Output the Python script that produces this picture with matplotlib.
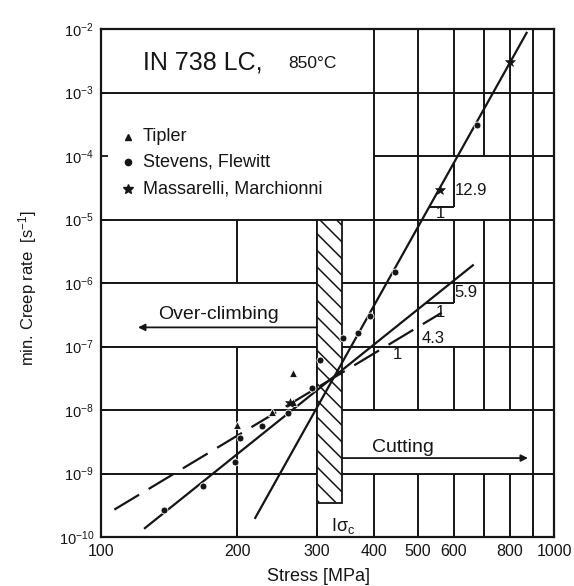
import numpy as np
import matplotlib
matplotlib.use('Agg')
import matplotlib.pyplot as plt
from matplotlib.patches import Rectangle
from matplotlib.ticker import FixedLocator, FixedFormatter, NullLocator

plt.rcParams['font.family'] = ['Liberation Sans', 'DejaVu Sans']
plt.rcParams['mathtext.fontset'] = 'custom'
plt.rcParams['mathtext.rm'] = 'Liberation Sans'
plt.rcParams['mathtext.it'] = 'Liberation Sans:italic'
plt.rcParams['mathtext.default'] = 'regular'
plt.rcParams['hatch.linewidth'] = 1.1

# ---------------- data ----------------
tipler_stress = [199.6, 238.5, 265.0, 265.4]
tipler_rate = [5.8e-9, 9.3e-9, 1.34e-8, 3.8e-8]

stevens_stress = [138, 168, 198, 203, 227, 259, 292, 305, 342, 369, 393, 446, 676]
stevens_rate = [2.66e-10, 6.4e-10, 1.5e-9, 3.6e-9, 5.6e-9, 9.0e-9, 2.2e-8, 6.2e-8,
                1.36e-7, 1.63e-7, 3.0e-7, 1.5e-6, 3.1e-4]

massarelli_stress = [261, 560, 800]
massarelli_rate = [1.29e-8, 2.9e-5, 3.0e-3]

# fitted straight lines (end points)
line_129_stress = [219, 870]
line_129_rate = [2.0e-10, 8.7e-3]
line_59_stress = [125, 662]
line_59_rate = [1.38e-10, 1.9e-6]
line_43_stress = [107, 565]
line_43_rate = [2.7e-10, 3.4e-7]

slope_labels = ['12.9', '5.9', '4.3']
series_names = ['Tipler', 'Stevens, Flewitt', 'Massarelli, Marchionni']

sigma_c_band = [300, 340]
sigma_c_band_rate = [3.4e-10, 1e-5]

x_ticks = [100, 200, 300, 400, 500, 600, 700, 800, 900, 1000]
x_tick_labels = ['100', '200', '300', '400', '500', '600', '', '800', '', '1000']
y_exponents = [-10, -9, -8, -7, -6, -5, -4, -3, -2]


def on_line(xs, ys, x=None, y=None):
    lx = np.log10(xs)
    ly = np.log10(ys)
    m = (ly[1] - ly[0]) / (lx[1] - lx[0])
    if x is not None:
        return 10 ** (ly[0] + m * (np.log10(x) - lx[0]))
    return 10 ** (lx[0] + (np.log10(y) - ly[0]) / m)


INK = '#151515'
fig = plt.figure(figsize=(5.74, 5.86), dpi=100)
ax = fig.add_axes([101 / 574, 49 / 586, 453 / 574, 508 / 586])
ax.set_xscale('log')
ax.set_yscale('log')
ax.set_xlim(100, 1000)
ax.set_ylim(1e-10, 1e-2)

# slope triangle geometry
A600 = on_line(line_129_stress, line_129_rate, x=600)
triA_y = 1.58e-5
triA_x0 = on_line(line_129_stress, line_129_rate, y=triA_y)
B600 = on_line(line_59_stress, line_59_rate, x=600)
triB_y = 4.8e-7
triB_x0 = on_line(line_59_stress, line_59_rate, y=triB_y)

# ---------------- grid with open boxes ----------------
vseg = {
    200: [(1e-10, 1e-7), (1e-6, 1e-5)],
    300: [(1e-10, 1e-5)],
    400: [(1e-10, 1e-9), (1e-8, 1e-2)],
    500: [(1e-10, 1e-9), (1e-8, 1e-2)],
    600: [(1e-10, 1e-9), (1e-8, 1e-7), (triB_y, 1e-5), (triA_y, A600), (1e-4, 1e-2)],
    700: [(1e-10, 1e-9), (1e-8, 1e-5), (1e-4, 1e-2)],
    800: [(1e-10, 1e-9), (1e-8, 1e-2)],
    900: [(1e-10, 1e-2)],
}
hseg = {
    1e-9: [(100, 1000)],
    1e-8: [(100, 1000)],
    1e-7: [(100, 1000)],
    1e-6: [(100, 1000)],
    1e-5: [(100, 1000)],
    1e-4: [(400, 1000)],
    1e-3: [(100, 1000)],
    triA_y: [(triA_x0, 600)],
    triB_y: [(triB_x0, 600)],
}
glw = 1.4
for x, segs in vseg.items():
    for y0, y1 in segs:
        ax.plot([x, x], [y0, y1], color=INK, lw=glw, zorder=1, solid_capstyle='butt')
for y, segs in hseg.items():
    for x0, x1 in segs:
        ax.plot([x0, x1], [y, y], color=INK, lw=glw, zorder=1, solid_capstyle='butt')

# sigma_c band
ax.add_patch(Rectangle((sigma_c_band[0], sigma_c_band_rate[0]),
                       sigma_c_band[1] - sigma_c_band[0],
                       sigma_c_band_rate[1] - sigma_c_band_rate[0],
                       facecolor='white', edgecolor=INK, hatch='\\\\', lw=1.3, zorder=2))

# ---------------- fitted lines ----------------
ax.plot(line_129_stress, line_129_rate, color=INK, lw=1.6, zorder=4)
ax.plot(line_59_stress, line_59_rate, color=INK, lw=1.6, zorder=4)
ax.plot(line_43_stress, line_43_rate, color=INK, lw=1.6, zorder=4, dashes=(13, 5))

# ---------------- data points ----------------
mk = dict(linestyle='none', color=INK, markeredgecolor='white', markeredgewidth=0.6, zorder=5)
ax.plot(tipler_stress, tipler_rate, marker='^', markersize=5.5, **mk)
ax.plot(stevens_stress, stevens_rate, marker='o', markersize=5, **mk)
ax.plot(massarelli_stress, massarelli_rate, marker='*', markersize=7, linestyle='none',
        color=INK, markeredgecolor=INK, markeredgewidth=0.4, zorder=5)

# ---------------- texts ----------------
ax.text(124, 3.0e-3, 'IN 738 LC,', fontsize=18, va='center', ha='left', color=INK, zorder=6)
ax.text(259, 2.9e-3, '850°C', fontsize=12.5, va='center', ha='left', color=INK, zorder=6)

leg_x_marker = 114.7
leg_x_text = 123.8
leg_y = [2.0e-4, 8.05e-5, 3.0e-5]
leg_markers = [('^', 5), ('o', 4.5), ('*', 7)]
for name, yy, (m, s) in zip(series_names, leg_y, leg_markers):
    ax.plot([leg_x_marker], [yy], marker=m, markersize=s, color=INK, linestyle='none', zorder=6)
    ax.text(leg_x_text, yy, name, fontsize=13, va='center', ha='left', color=INK, zorder=6)

ax.text(133.6, 3.2e-7, 'Over-climbing', fontsize=14, va='center', ha='left', color=INK, zorder=6)
ax.annotate('', xy=(120.7, 2.0e-7), xytext=(300, 2.0e-7),
            arrowprops=dict(arrowstyle='-|>', lw=1.3, color=INK, mutation_scale=10,
                            shrinkA=0, shrinkB=0), zorder=6)
ax.text(396, 2.6e-9, 'Cutting', fontsize=14, va='center', ha='left', color=INK, zorder=6)
ax.annotate('', xy=(876, 1.75e-9), xytext=(340, 1.75e-9),
            arrowprops=dict(arrowstyle='-|>', lw=1.3, color=INK, mutation_scale=10,
                            shrinkA=0, shrinkB=0), zorder=6)

ax.text(604, 2.9e-5, slope_labels[0], fontsize=12, va='center', ha='left', color=INK, zorder=6)
ax.text(560, 1.25e-5, '1', fontsize=12, va='center', ha='center', color=INK, zorder=6)
ax.text(604, 7.0e-7, slope_labels[1], fontsize=12, va='center', ha='left', color=INK, zorder=6)
ax.text(560, 3.4e-7, '1', fontsize=12, va='center', ha='center', color=INK, zorder=6)
ax.text(509, 1.36e-7, slope_labels[2], fontsize=12, va='center', ha='left', color=INK, zorder=6)
ax.text(450, 7.4e-8, '1', fontsize=12, va='center', ha='center', color=INK, zorder=6)

ax.text(322, 1.5e-10, r'I$\sigma_c$', fontsize=13, va='center', ha='left', color=INK, zorder=6)

# ---------------- axes ----------------
ax.xaxis.set_major_locator(FixedLocator(x_ticks))
ax.xaxis.set_major_formatter(FixedFormatter(x_tick_labels))
ax.xaxis.set_minor_locator(NullLocator())
ax.yaxis.set_major_locator(FixedLocator([10.0 ** e for e in y_exponents]))
ax.yaxis.set_major_formatter(FixedFormatter([r'10$^{%d}$' % e for e in y_exponents]))
ax.yaxis.set_minor_locator(NullLocator())
ax.tick_params(axis='both', direction='in', length=5, width=1.3, color=INK, labelcolor=INK)
ax.tick_params(axis='x', labelsize=11.5, pad=5)
ax.tick_params(axis='y', labelsize=10.5, pad=5)
for s in ax.spines.values():
    s.set_linewidth(1.6)
    s.set_color(INK)

ax.set_xlabel('Stress [MPa]', fontsize=13, color=INK)
ax.xaxis.set_label_coords(0.48, -0.062)
ax.set_ylabel(r'min. Creep rate  [s$^{-1}$]', fontsize=12, color=INK)
ax.yaxis.set_label_coords(-0.137, 0.49)

fig.savefig('out.png', dpi=100)
